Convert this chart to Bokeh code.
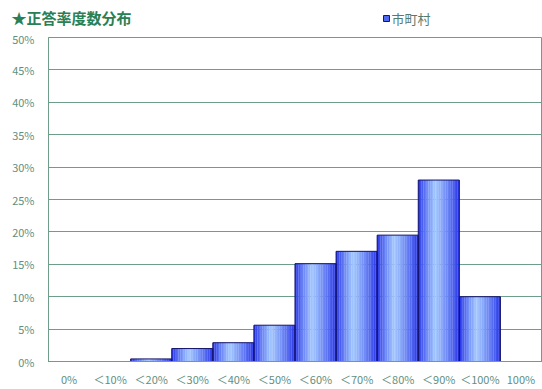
from bokeh.plotting import figure
from bokeh.layouts import column, row
from bokeh.models import FixedTicker, Range1d
from bokeh.core.properties import value
from bokeh.embed import file_html
from bokeh.resources import INLINE

# Distribution of correct-answer rates (percent of municipalities per band)
categories = ["0%", "＜10%", "＜20%", "＜30%", "＜40%", "＜50%",
              "＜60%", "＜70%", "＜80%", "＜90%", "＜100%", "100%"]
shares = [0.0, 0.0, 0.4, 2.0, 2.9, 5.6, 15.1, 17.0, 19.5, 28.0, 10.0, 0.0]
y_ticks = [0, 5, 10, 15, 20, 25, 30, 35, 40, 45, 50]
y_labels = ["0%", "5%", "10%", "15%", "20%", "25%", "30%", "35%", "40%", "45%", "50%"]
series_name = "市町村"
chart_title = "★正答率度数分布"

FONT = "Noto Sans CJK JP"
GRID = "#6e9e8a"
LABEL = "#5f8f7f"
BAR_EDGE = "#14146a"

# ---- header strip: title and legend ----
head = figure(width=542, height=30, output_backend="svg", toolbar_location=None,
              x_range=Range1d(0, 542), y_range=Range1d(0, 30),
              x_axis_type=None, y_axis_type=None, min_border=0)
head.outline_line_color = None
head.grid.grid_line_color = None
head.background_fill_color = "white"
head.border_fill_color = "white"
head.text(x=[11], y=[13], text=[chart_title], text_font=value(FONT),
          text_font_size="15px", text_font_style="bold", text_color="#2a8055",
          text_baseline="middle", text_align="left")
head.rect(x=[386], y=[12], width=6, height=6, fill_color="#5068f0",
          line_color=BAR_EDGE, line_width=1)
head.text(x=[391], y=[12], text=[series_name], text_font=value(FONT),
          text_font_size="13px", text_color="#557a70",
          text_baseline="middle", text_align="left")

# ---- main chart ----
p = figure(width=542, height=359, output_backend="svg", toolbar_location=None,
           x_range=Range1d(-0.5, len(categories) - 0.5), y_range=Range1d(0, 50),
           min_border_left=48, min_border_right=1, min_border_top=7, min_border_bottom=22)
p.background_fill_color = "white"
p.border_fill_color = "white"
p.outline_line_color = GRID
p.outline_line_width = 1

xs = list(range(len(categories)))

# Horizontal gradient for the bars, built from thin strips
N = 24
dark = (32, 44, 232)
light = (165, 202, 255)
peak = 0.42
for k in range(N):
    t = (k + 0.5) / N
    f = t / peak if t < peak else 1 - (t - peak) / (1 - peak)
    f = f ** 0.8
    c = tuple(int(dark[i] + (light[i] - dark[i]) * f) for i in range(3))
    col = "#%02x%02x%02x" % c
    off = -0.5 + (k + 0.5) / N
    p.vbar(x=[x + off for x in xs], width=1.0 / N + 0.004, top=shares, bottom=0,
           fill_color=col, line_color=None)

p.vbar(x=xs, width=1.0, top=shares, bottom=0, fill_color=None,
       line_color=BAR_EDGE, line_width=1)

# Axes
p.xaxis.ticker = FixedTicker(ticks=xs)
p.xaxis.major_label_overrides = {i: c for i, c in enumerate(categories)}
p.yaxis.ticker = FixedTicker(ticks=y_ticks)
p.yaxis.major_label_overrides = {v: l for v, l in zip(y_ticks, y_labels)}
for ax in (p.xaxis[0], p.yaxis[0]):
    ax.axis_line_color = GRID
    ax.major_tick_line_color = None
    ax.minor_tick_line_color = None
    ax.major_label_text_color = LABEL
    ax.major_label_text_font = FONT
    ax.major_label_text_font_size = "11px"
p.yaxis.major_label_standoff = 8
p.xaxis.major_label_standoff = 3
p.xgrid.grid_line_color = None
p.ygrid.grid_line_color = GRID
p.ygrid.grid_line_width = 1
p.ygrid.ticker = FixedTicker(ticks=y_ticks)

layout = column(row(head), p, spacing=0)
open("out.html", "w").write(file_html(layout, INLINE))
